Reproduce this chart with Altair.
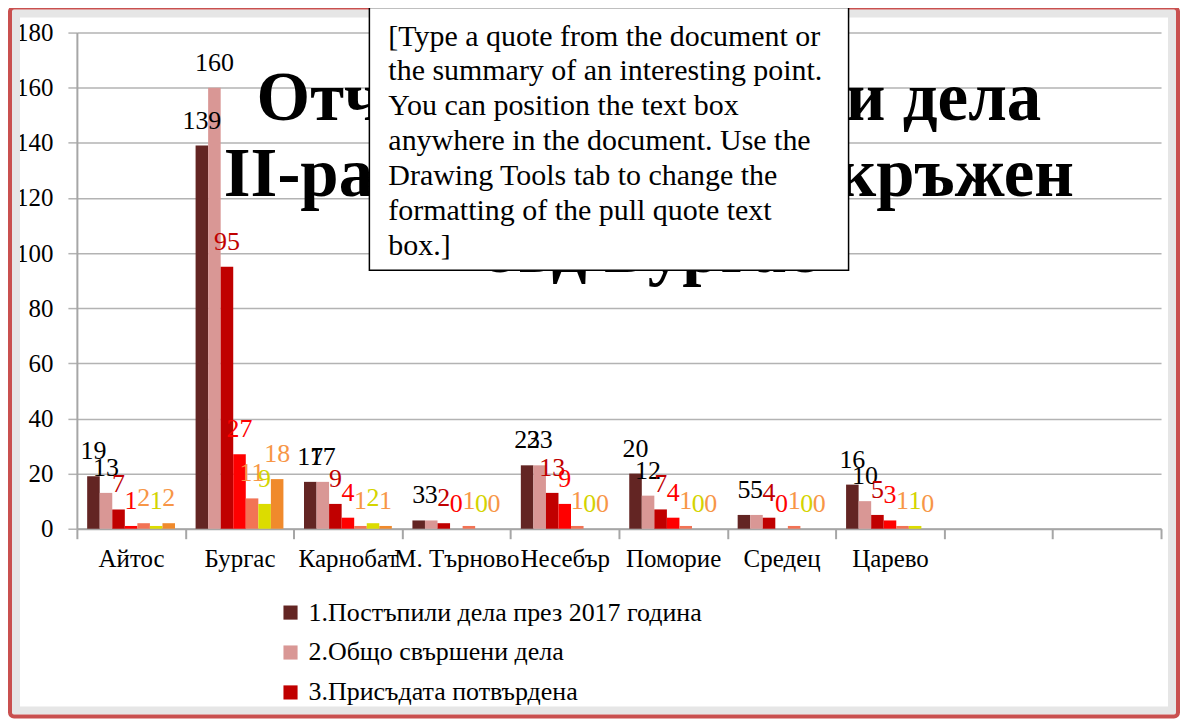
import altair as alt
import pandas as pd

# ---------------- data ----------------
categories = ["Айтос", "Бургас", "Карнобат", "М. Търново", "Несебър", "Поморие", "Средец", "Царево"]
empty_slots = ["_9", "_10"]
series_names = [
    "1.Постъпили дела през 2017 година",
    "2.Общо свършени дела",
    "3.Присъдата потвърдена",
    "4.Присъдата изменена",
    "5.Присъдата отменена",
    "6.Върнати за ново разглеждане",
    "7.Прекратени",
]
s1 = [19, 139, 17, 3, 23, 20, 5, 16]
s2 = [13, 160, 17, 3, 23, 12, 5, 10]
s3 = [7, 95, 9, 2, 13, 7, 4, 5]
s4 = [1, 27, 4, 0, 9, 4, 0, 3]
s5 = [2, 11, 1, 1, 1, 1, 1, 1]
s6 = [1, 9, 2, 0, 0, 0, 0, 1]
s7 = [2, 18, 1, 0, 0, 0, 0, 0]
y_ticks = [0, 20, 40, 60, 80, 100, 120, 140, 160, 180]

title_lines = ["Отчет за обжалвани дела", "II-ра инстанция - Окръжен", "съд Бургас"]
quote_lines = [
    "[Type a quote from the document or",
    "the summary of an interesting point.",
    "You can position the text box",
    "anywhere in the document. Use the",
    "Drawing Tools tab to change the",
    "formatting of the pull quote text",
    "box.]",
]

# ---------------- styles ----------------
BAR_COLORS = ["#632523", "#d99795", "#c00000", "#ff0000", "#f27355", "#dcdc00", "#f08a2c"]
LABEL_COLORS = ["#000000", "#000000", "#c00000", "#ff0000", "#f79646", "#d4d400", "#f79646"]
FONT = "Liberation Serif"

series_values = [s1, s2, s3, s4, s5, s6, s7]
rows = []
for si, (name, vals) in enumerate(zip(series_names, series_values)):
    for c, v in zip(categories, vals):
        rows.append({"cat": c, "series": name, "value": v, "lc": LABEL_COLORS[si]})
df = pd.DataFrame(rows)

x_enc = alt.X(
    "cat:N",
    scale=alt.Scale(domain=categories + empty_slots, paddingInner=0, paddingOuter=0),
    sort=categories + empty_slots,
    axis=alt.Axis(
        title=None,
        labelExpr="indexof(datum.label, '_') == 0 ? '' : datum.label",
        tickBand="extent",
        tickSize=10,
        tickColor="#a6a6a6",
        tickWidth=2,
        domainColor="#a6a6a6",
        domainWidth=2,
        labelFont=FONT,
        labelFontSize=25,
        labelColor="#000000",
        labelPadding=8,
        labelAngle=0,
        labelOverlap=False,
        labelLimit=0,
        grid=False,
    ),
)
xoff_enc = alt.XOffset(
    "series:N",
    scale=alt.Scale(domain=series_names, paddingInner=0, paddingOuter=0.82),
)
y_enc = alt.Y(
    "value:Q",
    scale=alt.Scale(domain=[0, 180], nice=False),
    axis=alt.Axis(
        title=None,
        values=y_ticks,
        grid=True,
        gridColor="#b3b3b3",
        gridWidth=1.5,
        tickSize=9,
        tickColor="#b3b3b3",
        tickWidth=1.5,
        domainColor="#a6a6a6",
        domainWidth=2,
        labelFont=FONT,
        labelFontSize=25,
        labelColor="#000000",
        labelPadding=15,
    ),
)

bars = alt.Chart(df).mark_bar(width={"band": 1}).encode(
    x=x_enc,
    xOffset=xoff_enc,
    y=y_enc,
    color=alt.Color(
        "series:N",
        scale=alt.Scale(domain=series_names, range=BAR_COLORS),
        legend=alt.Legend(
            values=series_names[:3],
            orient="none",
            legendX=201,
            legendY=568,
            title=None,
            symbolType="square",
            symbolSize=200,
            symbolStrokeWidth=0,
            labelFont=FONT,
            labelFontSize=26,
            labelColor="#000000",
            rowPadding=14,
            padding=0,
            labelLimit=0,
            labelOffset=5,
        ),
    ),
)

labels = alt.Chart(df).mark_text(
    font=FONT, fontSize=26, baseline="alphabetic", align="center", dy=-17
).encode(
    x=x_enc,
    xOffset=xoff_enc,
    y=y_enc,
    text=alt.Text("value:Q"),
    color=alt.Color("lc:N", scale=None),
)

one = pd.DataFrame({"k": [0]})

frame = alt.Chart(one).mark_rect(
    fill="#ffffff", fillOpacity=0, stroke="#c9504f", strokeWidth=4, cornerRadius=4
).encode(x=alt.value(-67), x2=alt.value(1103), y=alt.value(-25), y2=alt.value(685))

bevel = alt.Chart(one).mark_rect(
    fill="#ffffff", fillOpacity=0, stroke="#e6e6e6", strokeWidth=8
).encode(x=alt.value(-61), x2=alt.value(1097), y=alt.value(-19), y2=alt.value(679))

title = alt.Chart(one).mark_text(
    text=title_lines, font=FONT, fontSize=69, fontWeight="bold", align="center",
    baseline="alphabetic", lineHeight=76, color="#000000"
).encode(x=alt.value(573), y=alt.value(88))

box = alt.Chart(one).mark_rect(
    fill="#ffffff", stroke="#000000", strokeWidth=1.5
).encode(x=alt.value(293), x2=alt.value(773), y=alt.value(-25), y2=alt.value(238))

quote = alt.Chart(one).mark_text(
    text=quote_lines, font=FONT, fontSize=30, align="left", baseline="alphabetic",
    lineHeight=35, color="#000000"
).encode(x=alt.value(312), y=alt.value(13))

chart = alt.layer(bevel, frame, title, bars, labels, box, quote).resolve_scale(
    color="independent"
).properties(
    width=1086,
    height=497,
    autosize=alt.AutoSizeParams(type="none"),
    padding={"left": 69, "top": 24, "right": 19, "bottom": 191},
    background="#ffffff",
).configure_view(stroke=None)

chart.save("out.html", embed_options={"renderer": "svg", "actions": False})
